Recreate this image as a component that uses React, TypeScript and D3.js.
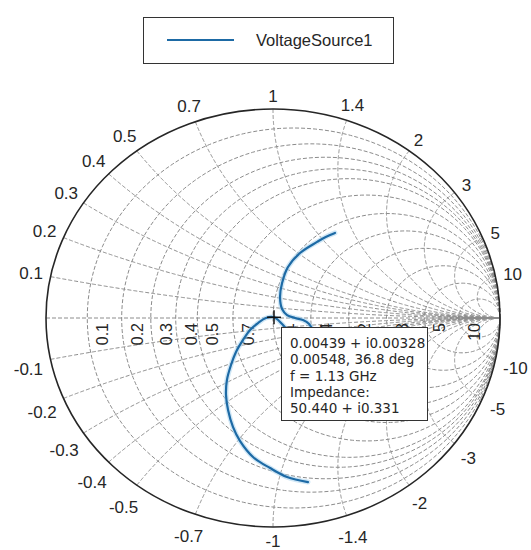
import React from 'react';
import * as d3 from 'd3';

const W = 531;
const H = 550;

// grid circle values (both resistance circles and reactance arcs)
const gridValues = [0.1, 0.2, 0.3, 0.4, 0.5, 0.7, 1, 1.4, 2, 3, 5, 10];
const gridLabels = ['0.1', '0.2', '0.3', '0.4', '0.5', '0.7', '1', '1.4', '2', '3', '5', '10'];

const seriesName = 'VoltageSource1';
// reflection coefficient trace
const gammaRe = [0.273, 0.232, 0.194, 0.119, 0.066, 0.040, 0.031, 0.040, 0.062, 0.097, 0.132, 0.159, 0.172, 0.159, 0.119, 0.075, 0.040, 0.0044, -0.031, -0.066, -0.101, -0.132, -0.163, -0.185, -0.203, -0.207, -0.198, -0.176, -0.145, -0.088, -0.013, 0.062, 0.154];
const gammaIm = [0.407, 0.388, 0.364, 0.311, 0.244, 0.167, 0.100, 0.043, 0.014, 0.0, -0.010, -0.029, -0.057, -0.086, -0.096, -0.072, -0.029, 0.0033, 0.0, -0.024, -0.057, -0.105, -0.163, -0.225, -0.297, -0.368, -0.440, -0.522, -0.589, -0.665, -0.718, -0.761, -0.785];

const tipPoint = { re: 0.00439, im: 0.00328 };
const tipLines = ['0.00439 + i0.00328', '0.00548, 36.8 deg', 'f = 1.13 GHz', 'Impedance:', '50.440 + i0.331'];

const gridColor = '#8c8c8c';
const textColor = '#262626';
const lineColor = '#1d6aa5';

const x = d3.scaleLinear().domain([-1, 1]).range([46, 500]);
const y = d3.scaleLinear().domain([-1, 1]).range([527, 109]);

const line = d3.line<[number, number]>().x(d => x(d[0])).y(d => y(d[1]));

function rCircle(r: number) {
  const c = r / (1 + r);
  const rad = 1 / (1 + r);
  const pts: [number, number][] = d3.range(0, 361, 2).map(a => {
    const t = (a * Math.PI) / 180;
    return [c + rad * Math.cos(t), rad * Math.sin(t)];
  });
  return line(pts);
}

function xArc(xv: number) {
  // z = r + j x for r from 0 to infinity
  const pts: [number, number][] = d3.range(0, 1, 0.0025).map(t => {
    const a = t / (1 - t);
    const den = (a + 1) * (a + 1) + xv * xv;
    return [(a * a - 1 + xv * xv) / den, (2 * xv) / den];
  });
  pts.push([1, 0]);
  return line(pts);
}

function textWidth(s: string, size: number) {
  let w = 0;
  for (const ch of s) w += ch === '.' ? 0.278 : ch === '-' ? 0.333 : 0.556;
  return w * size;
}

const cx = x(0);
const cy = y(0);
const rimSize = 17;

function rimLabel(v: number, label: string, sign: number) {
  const den = v * v + 1;
  const px = x((v * v - 1) / den);
  const py = y((sign * 2 * v) / den);
  const dx = px - cx;
  const dy = py - cy;
  const len = Math.hypot(dx, dy);
  const ux = dx / len;
  const uy = dy / len;
  const text = sign < 0 ? '-' + label : label;
  const hw = textWidth(text, rimSize) / 2;
  const off = 7 + hw * Math.abs(ux) + 6 * Math.abs(uy);
  const ly = Math.min(py + uy * off + (sign < 0 ? 5 : 0), H - 9);
  return { text, lx: px + ux * off, ly };
}

export default function App() {
  const trace: [number, number][] = gammaRe.map((g, i) => [g, gammaIm[i]]);
  const traceLine = d3.line<[number, number]>().x(d => x(d[0])).y(d => y(d[1])).curve(d3.curveCatmullRom);
  const rim = gridValues.flatMap((v, i) => [rimLabel(v, gridLabels[i], 1), rimLabel(v, gridLabels[i], -1)]);
  const mx = x(tipPoint.re);
  const my = y(tipPoint.im);

  return (
    <svg width={W} height={H} style={{ position: 'absolute', left: 0, top: 0, background: '#fff' }}
      fontFamily="'Liberation Sans', Arial, sans-serif">
      <rect width={W} height={H} fill="#fff" />

      {/* grid */}
      <g fill="none" stroke={gridColor} strokeWidth={1} strokeDasharray="4 2">
        <line x1={x(-1)} x2={x(1)} y1={cy} y2={cy} />
        {gridValues.map(v => <path key={'r' + v} d={rCircle(v) || ''} />)}
        {gridValues.map(v => <path key={'xp' + v} d={xArc(v) || ''} />)}
        {gridValues.map(v => <path key={'xn' + v} d={xArc(-v) || ''} />)}
      </g>
      <ellipse cx={cx} cy={cy} rx={x(1) - cx} ry={cy - y(1)} fill="none" stroke={textColor} strokeWidth={1.6} />

      {/* real axis labels */}
      <g fontSize={16} fill={textColor}>
        {gridValues.map((v, i) => {
          const px = x((v - 1) / (v + 1)) + 21;
          return (
            <text key={'al' + v} transform={`translate(${px},323) rotate(-90)`} textAnchor="end">
              {gridLabels[i]}
            </text>
          );
        })}
      </g>

      {/* rim labels */}
      <g fontSize={rimSize} fill={textColor} textAnchor="middle">
        {rim.map((d, i) => (
          <text key={'rl' + i} x={d.lx} y={d.ly} dy="0.36em">{d.text}</text>
        ))}
      </g>

      {/* trace */}
      <path d={traceLine(trace) || ''} fill="none" stroke="#a9d4ef" strokeOpacity={0.55} strokeWidth={5} strokeLinecap="round" />
      <path d={traceLine(trace) || ''} fill="none" stroke={lineColor} strokeWidth={2.2} strokeLinecap="round" />

      {/* data tip */}
      <g stroke="#111" strokeWidth={1.5}>
        <line x1={mx - 7} x2={mx + 7} y1={my} y2={my} />
        <line x1={mx} x2={mx} y1={my - 7} y2={my + 7} />
      </g>
      <rect x={281.5} y={327.5} width={146} height={93} fill="#fff" stroke="#333" strokeWidth={1} />
      <g fontFamily="'DejaVu Sans', Verdana, sans-serif" fontSize={13.5} fill={textColor}>
        {tipLines.map((s, i) => (
          <text key={'tl' + i} x={290} y={348 + i * 16.3}>{s}</text>
        ))}
      </g>

      {/* legend */}
      <rect x={143.5} y={17.5} width={250} height={46} fill="#fff" stroke="#333" strokeWidth={1} />
      <line x1={167} x2={234} y1={40} y2={40} stroke={lineColor} strokeWidth={2.2} />
      <text x={256} y={46} fontSize={16.5} fill={textColor}>{seriesName}</text>
    </svg>
  );
}
